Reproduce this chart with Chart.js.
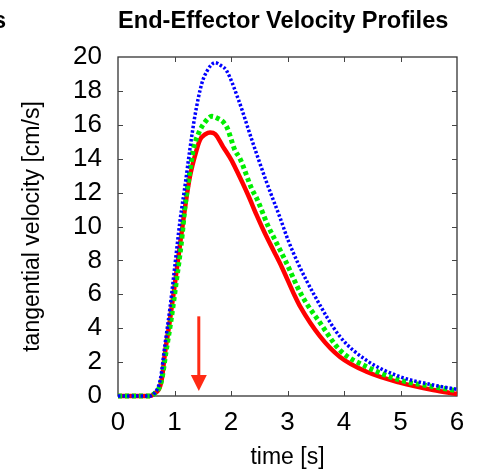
<!DOCTYPE html>
<html>
<head>
<meta charset="utf-8">
<script src="https://cdn.jsdelivr.net/npm/chart.js@4.4.1/dist/chart.umd.min.js"></script>
<style>
  html, body { margin: 0; padding: 0; background: #fff; }
  #wrap { width: 477px; height: 470px; }
</style>
</head>
<body>
<div id="wrap"><canvas id="velChart" width="477" height="470"></canvas></div>
<script>
// time [s] and tangential velocity [cm/s]
const redTime = [0, 0.56, 0.63, 0.77, 0.83, 0.92, 1.01, 1.10, 1.19, 1.27, 1.39, 1.45, 1.55, 1.63, 1.72, 1.86, 2.01, 2.10, 2.31, 2.45, 2.60, 2.75, 2.90, 3.13, 3.22, 3.58, 3.93, 4.40, 4.99, 5.58, 6.0];
const redSpeed = [0, 0, 0.1, 0.9, 2.5, 4.5, 6.7, 9.0, 11.2, 12.9, 14.5, 15.1, 15.45, 15.55, 15.45, 14.7, 13.9, 13.3, 11.8, 10.7, 9.6, 8.6, 7.6, 5.9, 5.3, 3.5, 2.3, 1.43, 0.79, 0.35, 0.12];

const greenTime = [0, 0.56, 0.63, 0.77, 0.85, 0.94, 1.03, 1.12, 1.19, 1.27, 1.33, 1.44, 1.55, 1.66, 1.72, 1.92, 2.07, 2.16, 2.37, 2.45, 2.66, 2.75, 2.96, 3.25, 3.58, 3.93, 4.40, 4.99, 5.58, 6.0];
const greenSpeed = [0, 0, 0.1, 0.9, 2.6, 4.5, 6.7, 9.0, 11.3, 13.2, 14.5, 15.6, 16.2, 16.5, 16.45, 15.9, 14.5, 14.0, 12.2, 11.7, 10.0, 9.4, 8.0, 5.95, 4.3, 2.7, 1.73, 0.94, 0.55, 0.31];

const blueTime = [0, 0.56, 0.63, 0.75, 0.83, 0.92, 1.00, 1.10, 1.19, 1.27, 1.36, 1.48, 1.58, 1.72, 1.82, 1.92, 2.13, 2.37, 2.62, 2.87, 3.01, 3.19, 3.49, 3.93, 4.40, 4.99, 5.58, 6.0];
const blueSpeed = [0, 0, 0.1, 1.0, 3.0, 5.2, 7.5, 10.4, 12.5, 14.5, 16.5, 18.4, 19.2, 19.67, 19.5, 19.2, 17.5, 15.1, 12.7, 10.5, 9.2, 7.8, 5.86, 3.5, 2.1, 1.14, 0.65, 0.39];

const xTicks = [0, 1, 2, 3, 4, 5, 6];
const yTicks = [0, 2, 4, 6, 8, 10, 12, 14, 16, 18, 20];

// red arrow marking the onset
const arrowTime = 1.43;
const arrowFrom = 4.7;
const arrowTo = 0.3;

function toPoints(ts, vs) {
  return ts.map((t, i) => ({ x: t, y: vs[i] }));
}

// frame, inward tick marks, arrow and title
const decorPlugin = {
  id: "decor",
  beforeDatasetsDraw(chart) {
    const { ctx, chartArea: a, scales } = chart;
    ctx.save();
    ctx.strokeStyle = "#333";
    ctx.lineWidth = 1.3;
    ctx.strokeRect(a.left, a.top, a.right - a.left, a.bottom - a.top);
    ctx.lineWidth = 1;
    ctx.strokeStyle = "#444";
    ctx.beginPath();
    xTicks.slice(1, -1).forEach((t) => {
      const px = Math.round(scales.x.getPixelForValue(t)) + 0.5;
      ctx.moveTo(px, a.bottom); ctx.lineTo(px, a.bottom - 5);
      ctx.moveTo(px, a.top); ctx.lineTo(px, a.top + 5);
    });
    yTicks.slice(1, -1).forEach((v) => {
      const py = Math.round(scales.y.getPixelForValue(v)) + 0.5;
      ctx.moveTo(a.left, py); ctx.lineTo(a.left + 5, py);
      ctx.moveTo(a.right, py); ctx.lineTo(a.right - 5, py);
    });
    ctx.stroke();
    ctx.restore();
  },
  afterDatasetsDraw(chart) {
    const { ctx, scales } = chart;
    const ax = scales.x.getPixelForValue(arrowTime);
    const y0 = scales.y.getPixelForValue(arrowFrom);
    const y1 = scales.y.getPixelForValue(arrowTo);
    ctx.save();
    ctx.strokeStyle = "#ff2a14";
    ctx.fillStyle = "#ff2a14";
    ctx.lineWidth = 3;
    ctx.beginPath();
    ctx.moveTo(ax, y0);
    ctx.lineTo(ax, y1 - 12);
    ctx.stroke();
    ctx.beginPath();
    ctx.moveTo(ax - 8, y1 - 16);
    ctx.lineTo(ax + 8, y1 - 16);
    ctx.lineTo(ax, y1);
    ctx.closePath();
    ctx.fill();

    ctx.fillStyle = "#000";
    ctx.font = "bold 23.6px 'Liberation Sans', Arial, sans-serif";
    ctx.textBaseline = "alphabetic";
    ctx.textAlign = "left";
    ctx.fillText("End-Effector Velocity Profiles", 118, 28);
    ctx.textAlign = "right";
    ctx.fillText("s", 6, 28);
    ctx.restore();
  },
};

const dataVel = {
  datasets: [
    {
      label: "red",
      data: toPoints(redTime, redSpeed),
      borderColor: "#ff0000",
      borderWidth: 4.5,
      order: 3,
    },
    {
      label: "green",
      data: toPoints(greenTime, greenSpeed),
      borderColor: "#00ee00",
      borderWidth: 5,
      borderDash: [4, 3],
      order: 2,
    },
    {
      label: "blue",
      data: toPoints(blueTime, blueSpeed),
      borderColor: "#0000ff",
      borderWidth: 3.5,
      borderDash: [2.5, 2],
      order: 1,
    },
  ],
};

const tickFont = { family: "'Liberation Sans', Arial, sans-serif", size: 26 };
const titleFont = { family: "'Liberation Sans', Arial, sans-serif", size: 23 };

const configVel = {
  type: "line",
  data: dataVel,
  plugins: [decorPlugin],
  options: {
    responsive: false,
    animation: false,
    devicePixelRatio: 1,
    layout: { padding: { top: 57, right: 20, left: 0, bottom: 0 } },
    elements: {
      point: { radius: 0 },
      line: { cubicInterpolationMode: "monotone", fill: false },
    },
    datasets: { line: { clip: 6 } },
    scales: {
      x: {
        type: "linear",
        min: 0,
        max: 6,
        afterFit: (scale) => { scale.height = 74; },
        afterBuildTicks: (scale) => { scale.ticks = xTicks.map((v) => ({ value: v })); },
        grid: { display: false, drawTicks: false },
        border: { display: false },
        ticks: { color: "#000", font: tickFont, padding: 11, maxRotation: 0, autoSkip: false },
        title: { display: true, text: "time [s]", color: "#000", font: titleFont, padding: { top: 0, bottom: -1 } },
      },
      y: {
        min: 0,
        max: 20,
        afterFit: (scale) => { scale.width = 118; },
        afterBuildTicks: (scale) => { scale.ticks = yTicks.map((v) => ({ value: v })); },
        grid: { display: false, drawTicks: false },
        border: { display: false },
        ticks: { color: "#000", font: tickFont, padding: 16, autoSkip: false },
        title: { display: true, text: "tangential velocity [cm/s]", color: "#000", font: titleFont, padding: { top: 19, bottom: 0 } },
      },
    },
    plugins: {
      legend: { display: false },
      tooltip: { enabled: false },
    },
  },
};

var velChart = new Chart(document.getElementById("velChart"), configVel);
</script>
</body>
</html>
